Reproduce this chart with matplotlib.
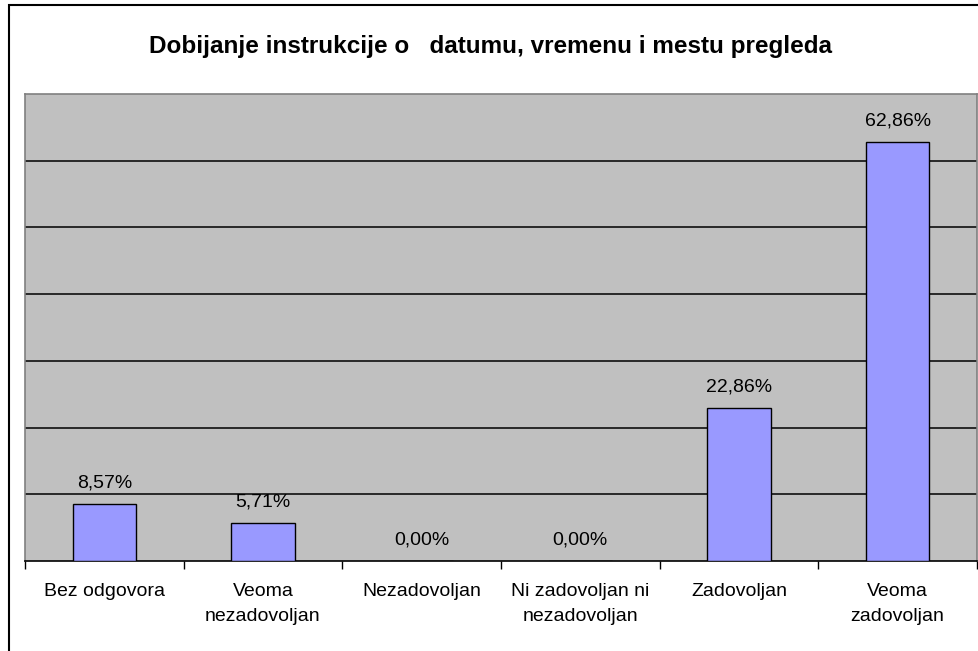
import numpy as np
import matplotlib.pyplot as plt
from matplotlib.patches import Rectangle

plt.rcParams['font.family'] = ['Liberation Sans', 'DejaVu Sans']

# survey answers and their shares (%)
categories = ['Bez odgovora', 'Veoma\nnezadovoljan', 'Nezadovoljan',
              'Ni zadovoljan ni\nnezadovoljan', 'Zadovoljan', 'Veoma\nzadovoljan']
values = [8.57, 5.71, 0.00, 0.00, 22.86, 62.86]
title = 'Dobijanje instrukcije o   datumu, vremenu i mestu pregleda'

W, H = 979, 651
fig = plt.figure(figsize=(W / 100, H / 100), dpi=100)

# outer chart frame (only left and top edges fall inside the image)
fig.patches.append(Rectangle((9 / W, -0.1), 1.2, 1 - 5 / H + 0.1,
                             transform=fig.transFigure, fill=False,
                             edgecolor='black', linewidth=1.5))

ax = fig.add_axes([25 / W, (H - 561) / H, (977 - 25) / W, (561 - 94) / H])
ax.set_facecolor('#c0c0c0')

x = np.arange(len(categories))
bars = ax.bar(x, values, width=0.4, color='#9999ff', edgecolor='black',
              linewidth=1.0, zorder=3)

for b, v in zip(bars, values):
    ax.annotate(f'{v:.2f}%'.replace('.', ','),
                (b.get_x() + b.get_width() / 2, b.get_height()),
                xytext=(0, 9), textcoords='offset points',
                ha='center', va='bottom', fontsize=14)

ax.set_xlim(-0.5, len(categories) - 0.5)
ax.set_ylim(0, 70)
ax.set_yticks(np.arange(10, 70, 10))
ax.yaxis.grid(True, color='black', linewidth=1.1, zorder=1)
ax.tick_params(axis='y', length=0, labelleft=False)

ax.set_xticks(x)
ax.set_xticklabels(categories, fontsize=14, linespacing=1.6)
ax.set_xticks(np.arange(-0.5, len(categories)), minor=True)
ax.tick_params(axis='x', which='major', length=0, pad=16)
ax.tick_params(axis='x', which='minor', length=6, width=1.0, color='black')

for s in ('left', 'right', 'top'):
    ax.spines[s].set_color('#808080')
    ax.spines[s].set_linewidth(1.2)
ax.spines['bottom'].set_color('black')
ax.spines['bottom'].set_linewidth(1.2)

fig.text(491 / W, 1 - 46 / H, title, ha='center', va='center',
         fontsize=17.5, fontweight='bold')

fig.savefig('out.png', dpi=100)
